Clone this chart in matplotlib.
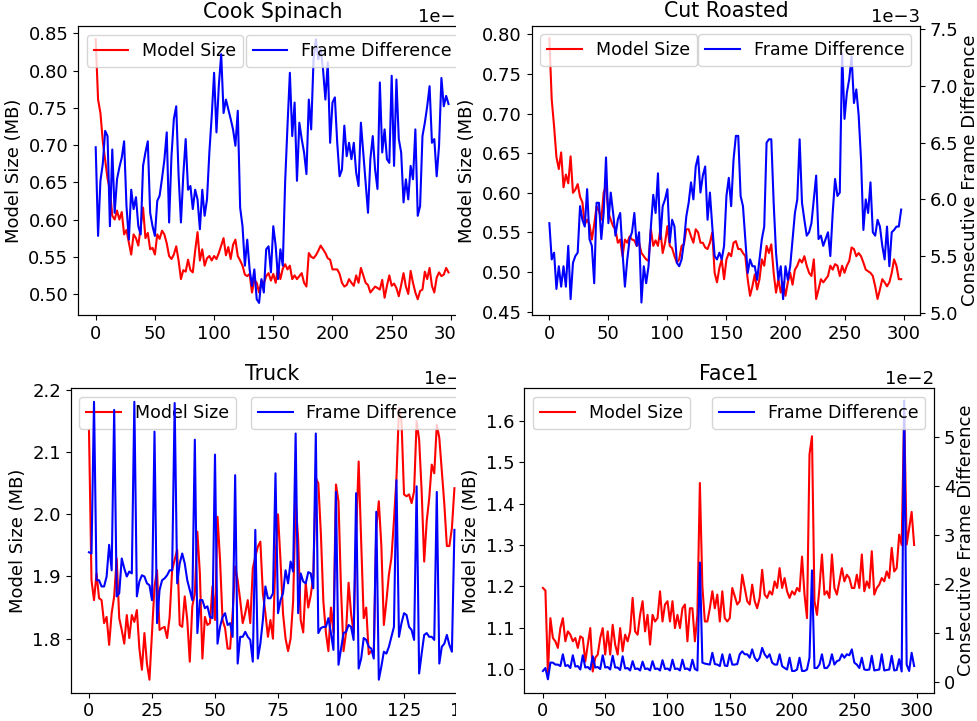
import numpy as np
import matplotlib
matplotlib.use("Agg")
import matplotlib.pyplot as plt

plt.rcParams['font.family'] = ['DejaVu Sans']
plt.rcParams['font.size'] = 12

# ---------------- data ----------------
frames300 = np.arange(0, 300, 2)
frames_truck = np.arange(0, 146)

# Cook Spinach
ms_cook = [0.842, 0.761, 0.743, 0.705, 0.680, 0.655, 0.640, 0.605, 0.600, 0.612,
           0.600, 0.610, 0.580, 0.586, 0.569, 0.553, 0.580, 0.575, 0.565, 0.590,
           0.616, 0.575, 0.582, 0.560, 0.562, 0.553, 0.580, 0.574, 0.585, 0.580,
           0.568, 0.551, 0.547, 0.553, 0.564, 0.545, 0.520, 0.532, 0.530, 0.546,
           0.532, 0.529, 0.558, 0.583, 0.545, 0.560, 0.538, 0.548, 0.551, 0.545,
           0.551, 0.547, 0.555, 0.565, 0.575, 0.552, 0.563, 0.547, 0.566, 0.573,
           0.551, 0.545, 0.538, 0.526, 0.524, 0.527, 0.502, 0.519, 0.515, 0.502,
           0.518, 0.514, 0.524, 0.528, 0.518, 0.527, 0.515, 0.535, 0.520, 0.534,
           0.540, 0.533, 0.538, 0.520, 0.525, 0.520, 0.524, 0.528, 0.515, 0.510,
           0.555, 0.550, 0.548, 0.552, 0.558, 0.565, 0.560, 0.555, 0.548, 0.546,
           0.533, 0.533, 0.533, 0.527, 0.515, 0.510, 0.512, 0.520, 0.515, 0.511,
           0.525, 0.515, 0.535, 0.525, 0.515, 0.512, 0.502, 0.506, 0.510, 0.508,
           0.506, 0.519, 0.495, 0.511, 0.525, 0.511, 0.514, 0.508, 0.497, 0.512,
           0.528, 0.510, 0.500, 0.531, 0.515, 0.502, 0.493, 0.504, 0.506, 0.530,
           0.520, 0.535, 0.511, 0.502, 0.522, 0.529, 0.524, 0.526, 0.535, 0.529]
fd_cook_e3 = [6.97, 5.78, 6.52, 6.75, 7.19, 7.12, 5.91, 6.94, 6.09, 6.54,
              6.70, 6.83, 7.05, 6.18, 5.73, 6.40, 6.14, 6.30, 5.91, 5.80,
              6.72, 6.90, 7.05, 6.09, 5.91, 5.78, 6.25, 6.32, 6.55, 6.80,
              7.17, 5.96, 6.85, 7.35, 7.52, 6.60, 5.96, 6.60, 7.08, 6.40,
              6.45, 6.14, 6.40, 6.27, 5.87, 6.40, 6.05, 6.27, 6.90, 7.39,
              7.97, 7.17, 7.80, 8.22, 7.43, 7.61, 7.48, 7.35, 7.21, 6.99,
              7.46, 6.16, 5.91, 5.38, 5.73, 5.33, 5.11, 5.33, 4.93, 4.88,
              5.20, 5.02, 5.60, 5.64, 5.29, 5.91, 5.65, 5.20, 5.60, 5.38,
              6.50, 7.26, 7.97, 7.12, 7.57, 6.52, 7.30, 7.08, 6.90, 6.61,
              7.61, 7.21, 8.15, 8.42, 8.15, 8.29, 8.02, 7.61, 8.11, 7.03,
              7.57, 7.64, 7.03, 6.58, 6.67, 7.26, 6.85, 7.03, 6.81, 7.03,
              6.63, 6.45, 7.30, 6.90, 6.50, 6.09, 6.81, 7.12, 6.67, 6.41,
              7.84, 6.90, 7.21, 6.81, 6.76, 7.93, 6.72, 7.88, 7.08, 6.90,
              6.23, 6.54, 6.27, 6.72, 6.54, 7.21, 6.05, 6.18, 7.12, 7.30,
              7.52, 7.79, 7.03, 7.08, 6.58, 6.99, 7.90, 7.52, 7.66, 7.55]

# Cut Roasted
ms_cut = [0.795, 0.718, 0.684, 0.645, 0.630, 0.651, 0.607, 0.623, 0.612, 0.646,
          0.600, 0.604, 0.611, 0.595, 0.588, 0.560, 0.566, 0.560, 0.541, 0.560,
          0.583, 0.577, 0.566, 0.600, 0.609, 0.575, 0.566, 0.558, 0.554, 0.537,
          0.541, 0.520, 0.541, 0.537, 0.545, 0.541, 0.540, 0.533, 0.537, 0.524,
          0.520, 0.516, 0.514, 0.554, 0.533, 0.540, 0.533, 0.554, 0.524, 0.537,
          0.558, 0.533, 0.530, 0.520, 0.512, 0.516, 0.533, 0.535, 0.554, 0.554,
          0.545, 0.537, 0.554, 0.550, 0.537, 0.537, 0.531, 0.529, 0.537, 0.550,
          0.499, 0.487, 0.505, 0.516, 0.491, 0.516, 0.524, 0.520, 0.537, 0.539,
          0.529, 0.529, 0.524, 0.520, 0.491, 0.470, 0.482, 0.497, 0.478, 0.491,
          0.516, 0.508, 0.533, 0.524, 0.535, 0.499, 0.474, 0.491, 0.474, 0.487,
          0.470, 0.487, 0.499, 0.484, 0.503, 0.508, 0.516, 0.512, 0.520, 0.508,
          0.499, 0.495, 0.516, 0.466, 0.478, 0.491, 0.487, 0.491, 0.495, 0.508,
          0.503, 0.510, 0.508, 0.495, 0.508, 0.499, 0.508, 0.514, 0.531, 0.529,
          0.520, 0.524, 0.520, 0.512, 0.503, 0.501, 0.499, 0.495, 0.482, 0.466,
          0.478, 0.491, 0.487, 0.482, 0.487, 0.499, 0.516, 0.508, 0.491, 0.491]
fd_cut_e3 = [5.79, 5.47, 5.53, 5.21, 5.41, 5.23, 5.41, 5.23, 5.59, 5.12,
             5.44, 5.50, 5.53, 5.94, 5.82, 5.76, 6.09, 5.65, 5.59, 5.26,
             5.97, 5.97, 5.65, 5.88, 6.37, 5.79, 6.06, 5.88, 5.68, 5.82,
             5.88, 5.53, 5.23, 5.47, 5.65, 5.71, 5.88, 5.59, 5.71, 5.09,
             5.41, 5.26, 5.41, 5.76, 6.04, 5.88, 6.23, 5.65, 5.94, 6.00,
             6.09, 5.62, 5.82, 5.76, 5.44, 5.41, 5.47, 5.62, 5.85, 5.97,
             6.15, 6.00, 6.29, 6.38, 6.06, 6.21, 6.29, 5.82, 6.06, 5.76,
             5.50, 5.47, 5.53, 5.47, 5.59, 6.03, 6.19, 5.94, 6.35, 6.56,
             6.56, 6.03, 5.94, 5.65, 5.35, 5.47, 5.41, 5.41, 5.29, 5.47,
             5.65, 5.76, 6.50, 6.53, 6.53, 5.97, 5.53, 5.29, 5.41, 5.12,
             5.41, 5.29, 5.41, 5.65, 5.88, 6.00, 6.53, 5.97, 5.82, 5.68,
             5.71, 5.79, 6.00, 6.21, 5.65, 5.68, 5.59, 5.65, 5.71, 5.50,
             5.88, 6.18, 6.03, 6.06, 7.29, 6.71, 6.94, 7.06, 7.26, 6.85,
             6.97, 6.74, 6.35, 5.73, 6.00, 5.88, 6.15, 5.71, 5.68, 5.82,
             5.76, 5.59, 5.47, 5.76, 5.41, 5.71, 5.73, 5.76, 5.76, 5.91]

# Truck
ms_truck = [2.136, 1.894, 1.862, 1.905, 1.865, 1.862, 1.825, 1.835, 1.790, 1.841,
            1.868, 1.929, 1.833, 1.814, 1.792, 1.838, 1.801, 1.838, 1.827, 1.846,
            1.784, 1.750, 1.809, 1.760, 1.734, 1.809, 1.884, 1.910, 1.814, 1.817,
            1.819, 1.801, 1.835, 1.910, 1.927, 1.943, 1.822, 1.819, 1.868, 1.830,
            1.763, 1.852, 1.873, 1.972, 1.905, 1.768, 1.835, 1.822, 1.825, 1.884,
            1.830, 1.996, 1.927, 1.830, 1.817, 1.784, 1.784, 1.841, 1.916, 1.894,
            1.862, 1.825, 1.841, 1.862, 1.825, 1.913, 1.932, 1.948, 1.956, 1.873,
            1.841, 1.803, 1.830, 1.800, 1.930, 2.000, 1.925, 1.840, 1.800, 1.780,
            1.800, 1.860, 2.020, 1.960, 1.830, 1.810, 1.890, 1.850, 1.870, 1.900,
            2.058, 2.050, 1.970, 1.860, 1.810, 1.780, 1.850, 1.810, 2.048, 2.021,
            1.880, 1.780, 1.810, 1.890, 1.840, 1.810, 1.967, 2.085, 1.956, 1.833,
            1.850, 1.775, 1.780, 1.780, 1.978, 2.021, 1.950, 1.822, 1.860, 1.903,
            1.930, 1.990, 2.058, 2.171, 2.150, 2.032, 2.029, 2.032, 2.018, 2.037,
            2.150, 2.120, 2.037, 1.924, 1.989, 2.026, 2.080, 2.066, 2.144, 2.123,
            2.069, 2.016, 1.949, 1.949, 1.978, 2.042]
fd_truck_e3 = [1.939, 1.937, 2.181, 1.894, 1.894, 1.884, 1.884, 1.900, 1.951, 1.910,
               2.168, 1.868, 1.873, 1.929, 1.913, 1.900, 1.908, 1.905, 2.181, 1.868,
               1.892, 1.902, 1.900, 1.889, 1.886, 1.862, 2.133, 1.825, 1.878, 1.894,
               1.897, 1.902, 1.910, 1.910, 2.179, 1.889, 1.921, 1.937, 1.921, 1.894,
               1.878, 1.862, 2.120, 1.809, 1.862, 1.862, 1.849, 1.852, 1.835, 1.833,
               2.096, 1.792, 1.819, 1.835, 1.841, 1.822, 1.825, 1.803, 2.063, 1.760,
               1.803, 1.803, 1.811, 1.803, 1.798, 1.763, 1.975, 1.768, 1.792, 1.830,
               1.884, 1.865, 1.865, 1.873, 2.066, 1.841, 1.862, 1.873, 1.910, 1.889,
               1.924, 1.908, 2.130, 1.841, 1.905, 1.892, 1.889, 1.907, 1.905, 1.881,
               2.130, 1.809, 1.817, 1.819, 1.819, 1.833, 1.809, 1.782, 2.036, 1.758,
               1.784, 1.809, 1.811, 1.822, 1.819, 1.798, 2.034, 1.752, 1.768, 1.801,
               1.798, 1.787, 1.784, 1.768, 2.004, 1.734, 1.755, 1.779, 1.776, 1.787,
               1.803, 1.819, 2.055, 1.803, 1.825, 1.841, 1.838, 1.819, 1.814, 1.798,
               2.045, 1.744, 1.776, 1.806, 1.809, 1.803, 1.803, 1.798, 2.036, 1.760,
               1.787, 1.792, 1.806, 1.790, 1.779, 1.975]

# Face1
ms_face = [1.196, 1.190, 0.990, 1.123, 1.075, 1.067, 1.051, 1.099, 1.123, 1.067,
           1.091, 1.083, 1.067, 1.075, 1.051, 1.079, 1.075, 1.018, 1.059, 1.099,
           0.994, 1.027, 1.035, 1.075, 1.099, 1.035, 1.091, 1.035, 1.107, 1.059,
           1.035, 1.099, 1.043, 1.083, 1.067, 1.091, 1.172, 1.091, 1.083, 1.131,
           1.164, 1.091, 1.131, 1.059, 1.131, 1.115, 1.123, 1.188, 1.115, 1.156,
           1.164, 1.115, 1.164, 1.099, 1.131, 1.099, 1.147, 1.156, 1.067, 1.147,
           1.147, 1.067, 1.131, 1.450, 1.200, 1.115, 1.115, 1.147, 1.188, 1.147,
           1.180, 1.115, 1.188, 1.123, 1.115, 1.123, 1.196, 1.176, 1.156, 1.164,
           1.228, 1.196, 1.164, 1.156, 1.204, 1.164, 1.147, 1.172, 1.240, 1.180,
           1.172, 1.188, 1.180, 1.212, 1.196, 1.244, 1.196, 1.220, 1.188, 1.172,
           1.188, 1.180, 1.196, 1.188, 1.272, 1.180, 1.123, 1.519, 1.563, 1.164,
           1.131, 1.196, 1.277, 1.180, 1.188, 1.172, 1.277, 1.196, 1.180, 1.212,
           1.244, 1.212, 1.228, 1.220, 1.196, 1.196, 1.228, 1.196, 1.277, 1.188,
           1.212, 1.196, 1.285, 1.180, 1.196, 1.204, 1.220, 1.212, 1.236, 1.220,
           1.293, 1.236, 1.244, 1.325, 1.300, 1.620, 1.301, 1.341, 1.380, 1.300]
fd_face_e2 = [0.23, 0.29, 0.06, 0.40, 0.40, 0.36, 0.36, 0.33, 0.57, 0.33,
              0.35, 0.29, 0.55, 0.32, 0.33, 0.26, 0.55, 0.30, 0.31, 0.26,
              0.53, 0.30, 0.31, 0.27, 0.55, 0.30, 0.31, 0.26, 0.54, 0.30,
              0.30, 0.25, 0.53, 0.28, 0.29, 0.24, 0.43, 0.27, 0.28, 0.24,
              0.42, 0.27, 0.28, 0.24, 0.43, 0.27, 0.28, 0.24, 0.45, 0.27,
              0.28, 0.24, 0.46, 0.27, 0.28, 0.24, 0.46, 0.27, 0.28, 0.24,
              0.46, 0.27, 0.24, 2.44, 0.40, 0.38, 0.37, 0.36, 0.60, 0.37,
              0.36, 0.33, 0.57, 0.34, 0.33, 0.57, 0.36, 0.36, 0.37, 0.57,
              0.63, 0.57, 0.57, 0.50, 0.67, 0.50, 0.43, 0.50, 0.70, 0.57,
              0.50, 0.57, 0.40, 0.36, 0.36, 0.57, 0.33, 0.29, 0.26, 0.50,
              0.23, 0.23, 0.26, 0.50, 0.23, 0.23, 0.26, 0.50, 2.28, 0.29,
              0.29, 0.36, 0.57, 0.29, 0.29, 0.36, 0.57, 0.36, 0.43, 0.45,
              0.57, 0.50, 0.57, 0.55, 0.67, 0.40, 0.36, 0.29, 0.50, 0.26,
              0.25, 0.26, 0.54, 0.24, 0.25, 0.26, 0.57, 0.24, 0.25, 0.26,
              0.54, 0.24, 0.25, 0.47, 0.22, 5.74, 0.36, 0.23, 0.60, 0.33]

titles = ["Cook Spinach", "Cut Roasted", "Truck", "Face1"]

# ---------------- figure ----------------
W, H = 977, 721
fig = plt.figure(figsize=(W / 100, H / 100), dpi=100)
fig.patch.set_facecolor('white')

TICK_FS = 13
LEG_FS = 12.5
LABEL_FS = 13


def rect_px(l, t, r, b):
    return [l / W, (H - b) / H, (r - l) / W, (b - t) / H]


def panel(rect, z, title, x, ms, fd, xlim, xticks, ms_lim, ms_ticks,
          fd_lim, fd_ticks, hidden_right=False):
    ax = fig.add_axes(rect, zorder=z)
    ax2 = ax.twinx()
    ax2.set_zorder(z + 0.1)
    ax.plot(x, ms, color='red', lw=1.5, label='Model Size')
    ax2.plot(x, fd, color='blue', lw=1.5, label='Frame Difference')
    ax.set_xlim(*xlim)
    ax.set_xticks(xticks)
    ax.set_ylim(*ms_lim)
    if ms_ticks is not None:
        ax.set_yticks(ms_ticks)
    ax2.set_ylim(*fd_lim)
    if fd_ticks is not None:
        ax2.set_yticks(fd_ticks)
    ax2.ticklabel_format(axis='y', style='sci', scilimits=(0, 0))
    ax.set_ylabel('Model Size (MB)', fontsize=LABEL_FS)
    if not hidden_right:
        ax2.set_ylabel('Consecutive Frame Difference', fontsize=LABEL_FS,
                       labelpad=1.5)
    ax.set_title(title, fontsize=14.8)
    ax.tick_params(labelsize=TICK_FS)
    ax2.tick_params(labelsize=TICK_FS)
    if hidden_right:
        # this side lies under the neighbouring panel in the reference
        ax2.tick_params(labelcolor='none')
    ax2.yaxis.get_offset_text().set_color('black')
    ax2.yaxis.get_offset_text().set_fontsize(TICK_FS)
    ax.legend(loc='upper left', fontsize=LEG_FS)
    ax2.legend(loc='upper right', fontsize=LEG_FS)
    return ax, ax2


xl300 = (-14.95, 313.95)
xt300 = np.arange(0, 301, 50)

# left column (drawn first, partly covered by the right column)
panel(rect_px(78, 26, 467.4, 315), 0, titles[0], frames300, ms_cook,
      np.array(fd_cook_e3) * 1e-3, xl300, xt300,
      (0.4718, 0.8598), np.arange(0.50, 0.851, 0.05),
      (4.718e-3, 8.598e-3), np.arange(5.0, 8.51, 0.5) * 1e-3,
      hidden_right=True)

panel(rect_px(70.7, 388.3, 472.7, 692.7), 0, titles[2], frames_truck, ms_truck,
      np.array(fd_truck_e3) * 1e-3, (-7.25, 152.25), np.arange(0, 151, 25),
      (1.7131, 2.2027), np.arange(1.8, 2.201, 0.1),
      (1.7131e-3, 2.2027e-3), np.arange(1.8, 2.201, 0.1) * 1e-3,
      hidden_right=True)

# white cover of the right column
cover = fig.add_axes([456 / W, 0, 1 - 456 / W, 1], zorder=1)
cover.set_facecolor('white')
cover.set_xticks([])
cover.set_yticks([])
for s in cover.spines.values():
    s.set_visible(False)

# right column
panel(rect_px(531.7, 25.7, 920, 315), 2, titles[1], frames300, ms_cut,
      np.array(fd_cut_e3) * 1e-3, xl300, xt300,
      (0.4458, 0.8109), np.arange(0.45, 0.801, 0.05),
      (4.980e-3, 7.532e-3), np.arange(5.0, 7.51, 0.5) * 1e-3)

panel(rect_px(524.3, 388.3, 934, 692.7), 2, titles[3], frames300, ms_face,
      np.array(fd_face_e2) * 1e-2, xl300, xt300,
      (0.9427, 1.679), np.arange(1.0, 1.61, 0.1),
      (-0.213e-2, 5.99e-2), np.arange(0, 5.1, 1) * 1e-2)

fig.savefig('out.png', dpi=100, facecolor='white')
